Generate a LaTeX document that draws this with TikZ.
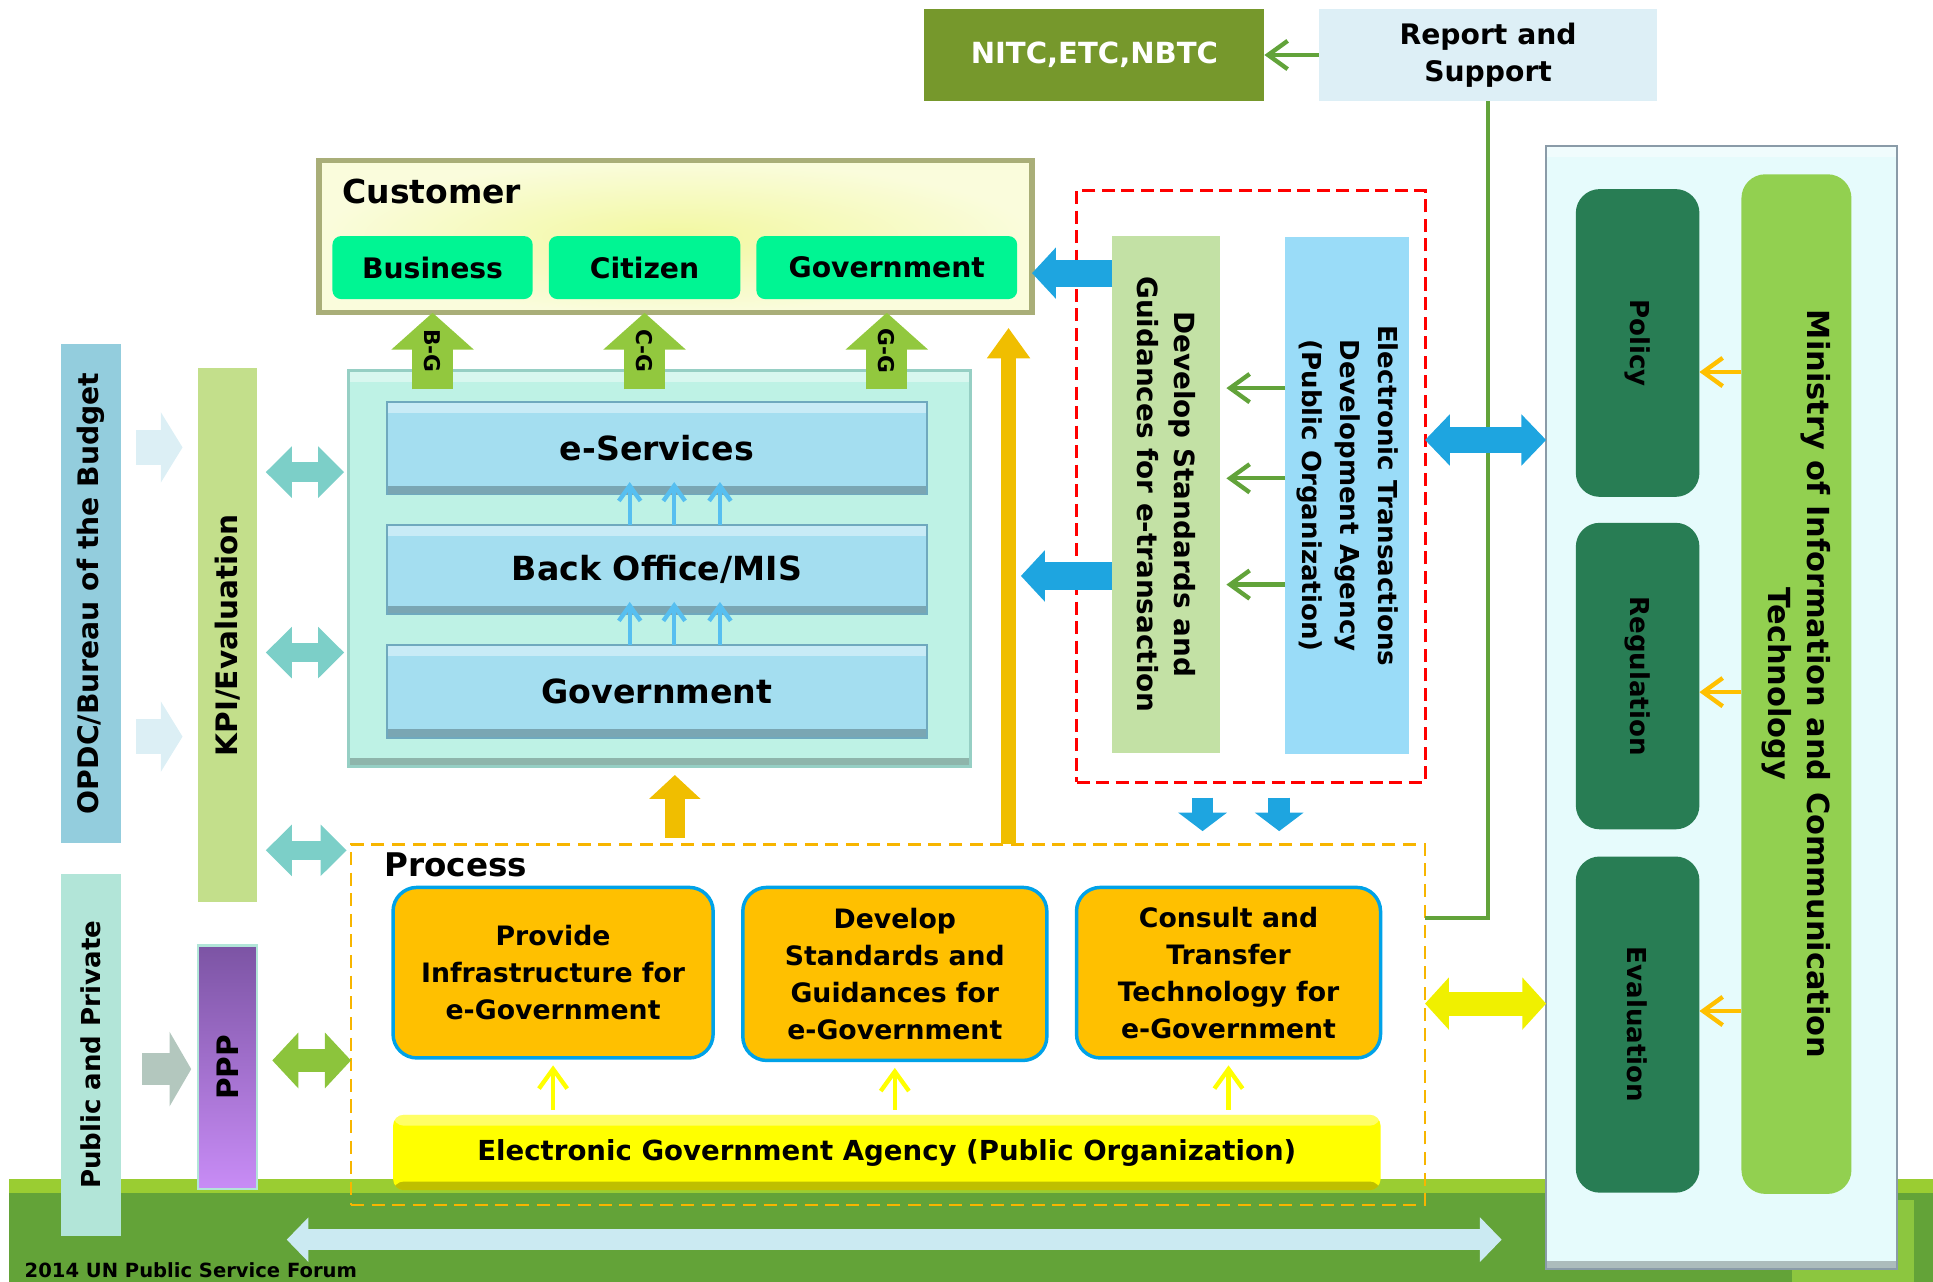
\documentclass[tikz,border=0pt]{standalone}
\usepackage{fontspec}
\setmainfont{DejaVu Sans}
\usetikzlibrary{arrows.meta, positioning, calc}
\definecolor{nitcgreen}{RGB}{118,152,44}
\definecolor{reportblue}{RGB}{221,239,246}
\definecolor{custcore}{RGB}{242,248,160}
\definecolor{custbg}{RGB}{250,252,220}
\definecolor{custframe}{RGB}{169,174,120}
\definecolor{springgreen}{RGB}{0,245,147}
\definecolor{shaftgreen}{RGB}{146,200,62}
\definecolor{aquabox}{RGB}{190,242,229}
\definecolor{aquaedge}{RGB}{150,207,196}
\definecolor{layerblue}{RGB}{164,222,240}
\definecolor{layeredge}{RGB}{111,169,190}
\definecolor{skyline}{RGB}{87,191,240}
\definecolor{opdcblue}{RGB}{147,205,221}
\definecolor{pubgreen}{RGB}{178,229,216}
\definecolor{kpigreen}{RGB}{195,223,139}
\definecolor{pppdark}{RGB}{124,84,164}
\definecolor{ppplight}{RGB}{200,140,246}
\definecolor{paleblue}{RGB}{220,239,245}
\definecolor{grayarrow}{RGB}{179,199,190}
\definecolor{tealcol}{RGB}{124,207,200}
\definecolor{leafgreen}{RGB}{140,196,60}
\definecolor{goldcol}{RGB}{240,190,0}
\definecolor{procorange}{RGB}{247,181,0}
\definecolor{boxorange}{RGB}{255,192,0}
\definecolor{boxblue}{RGB}{0,162,232}
\definecolor{egayellow}{RGB}{255,255,0}
\definecolor{yellowboth}{RGB}{240,240,0}
\definecolor{devgreen}{RGB}{195,225,165}
\definecolor{etdablue}{RGB}{154,220,248}
\definecolor{linegreen}{RGB}{98,163,58}
\definecolor{arrowblue}{RGB}{30,165,224}
\definecolor{mintbg}{RGB}{230,251,252}
\definecolor{mintedge}{RGB}{138,155,168}
\definecolor{policygreen}{RGB}{40,125,84}
\definecolor{mictgreen}{RGB}{146,208,80}
\definecolor{arroworange}{RGB}{255,192,0}
\definecolor{groundlight}{RGB}{154,205,50}
\definecolor{grounddark}{RGB}{99,163,56}
\definecolor{groundlime}{RGB}{140,198,63}
\definecolor{flowcyan}{RGB}{203,234,242}

\tikzset{
  blk/.style={inner sep=0pt, outer sep=0pt, align=center, font=\bfseries},
  wh/.style 2 args={minimum width=#1*0.02cm, minimum height=#2*0.02cm},
  fs/.style 2 args={font={\fontsize{#1}{#2}\selectfont\bfseries}},
  bevel/.style={path picture={
      \fill[white, opacity=.4] (path picture bounding box.north west) rectangle ([yshift=-5pt]path picture bounding box.north east);
      \fill[black, opacity=.25] ([yshift=4pt]path picture bounding box.south west) rectangle (path picture bounding box.south east);}},
  custtab/.style={blk, fill=springgreen, rounded corners=4pt, fs={13}{16}},
  tier/.style={blk, fill=layerblue, draw=layeredge, line width=0.8pt, bevel, fs={15.3}{18}},
  task/.style={blk, fill=boxorange, draw=boxblue, line width=1.6pt, rounded corners=11pt, fs={12.3}{17}},
  pillar/.style={blk, fill=policygreen, rounded corners=11pt},
  thinarrow/.style={line width=2pt, -{Straight Barb[length=9pt, width=13pt]}},
  skyarrow/.style={draw=skyline, line width=2pt, -{Straight Barb[length=7pt, width=10pt]}},
  fat/.style n args={3}{line width=#1, -{Triangle[length=#2, width=#3]}},
  fatboth/.style n args={3}{line width=#1, {Triangle[length=#2, width=#3]}-{Triangle[length=#2, width=#3]}},
  palearrow/.style={fat={16pt}{10pt}{32pt}, draw=paleblue, shorten <=7pt, shorten >=7pt},
  tealboth/.style={fatboth={9pt}{12pt}{23pt}, draw=tealcol, shorten <=4pt, shorten >=2pt},
  bluearrow/.style={fat={12.5pt}{11pt}{23pt}, draw=arrowblue}
}

\begin{document}
\begin{tikzpicture}[x=0.02cm, y=-0.02cm]
    \useasboundingbox (0,0) rectangle (1564,1037);
    % ground band
    \fill[groundlight] (7,954) rectangle (1564,1037);
    \fill[grounddark] (7,965) rectangle (1564,1037);
    \fill[groundlime] (1450,971) rectangle (1549,1037);
    \node[blk, anchor=west, fs={9}{11}] (footer) at (20,1028) {2014 UN Public Service Forum};

    % top row
    \node[blk, wh={275}{75}, fill=nitcgreen, text=white, fs={13.4}{16}] (nitc) at (885.5,44.5) {NITC,ETC,NBTC};
    \node[blk, wh={274}{75}, fill=reportblue, fs={13}{17}] (report) at (1204,44.5) {Report and\\Support};
    \draw[thinarrow, draw=linegreen] (report.west) -- (nitc.east);

    % customer
    \node[blk, wh={577}{123}, inner color=custcore, outer color=custbg, draw=custframe, line width=2.5pt] (cust) at (546.5,191.5) {};
    \node[blk, anchor=west, fs={15.2}{18}] (cust-t) at (277,155) {Customer};
    \node[custtab, wh={162}{51}] (biz) at (350,216.5) {Business};
    \node[custtab, wh={155}{51}] (citizen) at (521.5,216.5) {Citizen};
    \node[custtab, wh={211}{51}] (govt) at (717.5,216.5) {Government};

    % e-government stack
    \node[blk, wh={503}{320}, fill=aquabox, draw=aquaedge, line width=1.5pt, bevel] (stack) at (533.5,460) {};
    \node[tier, wh={437}{75}] (eserv) at (531.5,362.5) {e-Services};
    \node[tier, wh={437}{72}] (backoff) at (531.5,461) {Back Office/MIS};
    \node[tier, wh={437}{75}] (govtier) at (531.5,559.5) {Government};
    \foreach \dx in {-22,14,51} {
        \draw[skyarrow] ($(backoff.north)+(\dx,0)$) -- ($(eserv.south)+(\dx,-10)$);
        \draw[skyarrow] ($(govtier.north)+(\dx,0)$) -- ($(backoff.south)+(\dx,-10)$);
    }
    \foreach \src/\lbl in {biz/B-G, citizen/C-G, govt/G-G}
        \draw[fat={19pt}{17pt}{37pt}, draw=shaftgreen] ($(\src.south |- stack.north)+(0,15)$) -- (\src.south |- cust.south)
            node[midway, rotate=-90, text=black, fs={10}{12}] (\src-lbl) {\lbl};

    % left bars
    \node[blk, wh={49}{404}, fill=opdcblue] (opdc) at (73.5,480) {};
    \node[blk, rotate=90, fs={13}{15}] (opdc-t) at (opdc) {OPDC/Bureau of the Budget};
    \node[blk, wh={49}{293}, fill=pubgreen] (pubpriv) at (73.5,853.5) {};
    \node[blk, rotate=90, fs={12}{14}] (pubpriv-t) at (pubpriv) {Public and Private};
    \node[blk, wh={48}{432}, fill=kpigreen] (kpi) at (184,514) {};
    \node[blk, rotate=90, fs={13.6}{16}] (kpi-t) at (kpi) {KPI/Evaluation};
    \node[blk, wh={48}{197}, top color=pppdark, bottom color=ppplight, draw=pubgreen, line width=1pt] (ppp) at (184,863.5) {};
    \node[blk, rotate=90, fs={13.6}{16}] (ppp-t) at (ppp) {PPP};

    % process
    \node[blk, wh={869}{292}, draw=procorange, line width=1.3pt, dash pattern=on 6pt off 3.5pt] (process) at (718.5,829) {};
    \node[blk, anchor=west, fs={15}{18}] (process-t) at (311,700) {Process};
    \node[task, wh={259}{138}] (provide) at (447.5,787) {Provide\\Infrastructure for\\e-Government};
    \node[task, wh={246}{140}] (devstd) at (724,788) {Develop\\Standards and\\Guidances for\\e-Government};
    \node[task, wh={246}{138}] (consult) at (994,787) {Consult and\\Transfer\\Technology for\\e-Government};
    \node[blk, wh={799}{61}, fill=egayellow, rounded corners=5pt, bevel, fs={12.7}{15}] (ega) at (717.5,932.5) {Electronic Government Agency (Public Organization)};
    \foreach \t in {provide,devstd,consult}
        \draw[thinarrow, draw=egayellow, shorten <=2.3pt, shorten >=3.4pt] (\t.south |- ega.north) -- (\t.south);

    % left arrows
    \foreach \yy in {362,596}
        \draw[palearrow] (opdc.east |- 0,\yy) -- (kpi.west |- 0,\yy);
    \draw[fat={15pt}{10pt}{34pt}, draw=grayarrow, shorten <=9.7pt, shorten >=3pt] (pubpriv.east |- 0,865) -- (ppp.west |- 0,865);
    \foreach \yy in {382,528}
        \draw[tealboth] (kpi.east |- 0,\yy) -- (stack.west |- 0,\yy);
    \draw[tealboth] (kpi.east |- 0,688) -- (process.west |- 0,688);
    \draw[fatboth={11pt}{12pt}{25pt}, draw=leafgreen, shorten <=7pt] (ppp.east |- 0,858) -- (process.west |- 0,858);

    % gold arrows
    \coordinate (riser) at (process.north -| 816,0);
    \draw[fat={7pt}{14pt}{19pt}, draw=goldcol, shorten >=7pt] (riser) -- (cust.south -| riser);
    \draw[fat={9pt}{11pt}{23pt}, draw=goldcol, shorten <=3pt, shorten >=4pt] (process.north -| 546,0) -- (stack.south -| 546,0);

    % e-transaction block
    \node[blk, wh={282}{479}, draw=red, line width=1.4pt, dash pattern=on 6pt off 3pt] (redbox) at (1012,393.5) {};
    \node[blk, wh={87}{418}, fill=devgreen] (devet) at (943.5,400) {};
    \node[blk, rotate=-90, fs={12.8}{17}] (devet-t) at (devet) {Develop Standards and\\Guidances for e-transaction};
    \node[blk, wh={100}{418}, fill=etdablue] (etda) at (1090,401) {};
    \node[blk, rotate=-90, fs={12}{17.5}] (etda-t) at (etda) {Electronic Transactions\\Development Agency\\(Public Organization)};
    \foreach \yy in {314,387,473}
        \draw[thinarrow, draw=linegreen, shorten >=3pt] (etda.west |- 0,\yy) -- (devet.east |- 0,\yy);
    \draw[bluearrow] (devet.west |- 0,221) -- (cust.east |- 0,221);
    \draw[bluearrow, shorten >=5.7pt] (devet.west |- 0,466) -- (riser |- 0,466);
    \foreach \xx in {973,1035}
        \draw[fat={10pt}{8.5pt}{22pt}, draw=arrowblue, shorten <=7pt, shorten >=6pt] (redbox.south -| \xx,0) -- (process.north -| \xx,0);

    % ministry
    \node[blk, wh={284}{909}, fill=mintbg, draw=mintedge, line width=1pt, bevel] (ministry) at (1393,572.5) {};
    \node[pillar, wh={100}{249}] (policy) at (1325,277.5) {};
    \node[blk, rotate=-90, fs={12}{14}] (policy-t) at (policy) {Policy};
    \node[pillar, wh={100}{248}] (regulation) at (1325,547) {};
    \node[blk, rotate=-90, fs={12}{14}] (regulation-t) at (regulation) {Regulation};
    \node[pillar, wh={100}{272}] (evaluation) at (1325,829) {};
    \node[blk, rotate=-90, fs={12}{14}] (evaluation-t) at (evaluation) {Evaluation};
    \node[blk, wh={89}{825}, fill=mictgreen, rounded corners=11pt] (mict) at (1453.5,553.5) {};
    \node[blk, rotate=-90, fs={14}{18}] (mict-t) at (mict) {Ministry of Information and Communication\\Technology};
    \foreach \t/\yy in {policy/301,regulation/560,evaluation/818}
        \draw[thinarrow, draw=arroworange] (mict.west |- 0,\yy) -- (\t.east |- 0,\yy);

    % links to ministry
    \draw[linegreen, line width=1.7pt] (report.south) |- ([yshift=1.72cm]process.east);
    \draw[fatboth={12pt}{11.4pt}{23pt}, draw=arrowblue] (redbox.east |- 0,356) -- (ministry.west |- 0,356);
    \draw[fatboth={11pt}{11pt}{23.5pt}, draw=yellowboth] (process.east |- 0,812) -- (ministry.west |- 0,812);

    % bottom flow
    \coordinate (flowL) at (232,1003);
    \coordinate (flowR) at (1215,1003);
    \draw[fatboth={9.5pt}{10pt}{20pt}, draw=flowcyan] (flowL) -- (flowR);
\end{tikzpicture}
\end{document}
